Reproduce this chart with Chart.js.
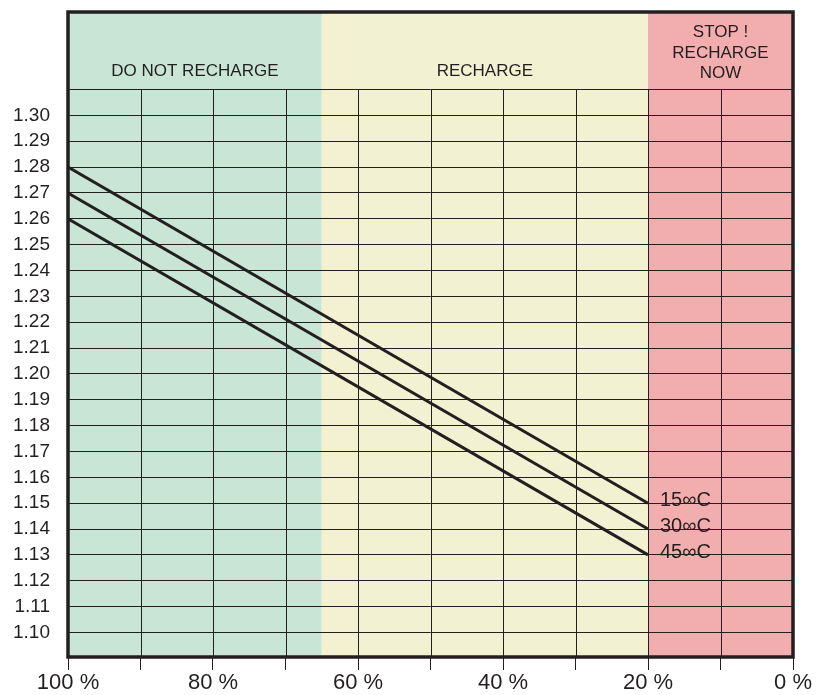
<!DOCTYPE html>
<html>
<head>
<meta charset="utf-8">
<script src="https://cdn.jsdelivr.net/npm/chart.js@4"></script>
<style>
  body { margin: 0; background: #fff; }
  #wrap { width: 819px; height: 695px; }
</style>
</head>
<body>
<div id="wrap"><canvas id="myChart"></canvas></div>
<script>
// state of charge (%) at the ends of each line
const socPercent = [100, 20]
// specific gravity per temperature
const sg15 = [1.28, 1.15]
const sg30 = [1.27, 1.14]
const sg45 = [1.26, 1.13]
const tempLabels = ["15∞C", "30∞C", "45∞C"]

const yTickValues = [1.10, 1.11, 1.12, 1.13, 1.14, 1.15, 1.16, 1.17, 1.18, 1.19, 1.20,
  1.21, 1.22, 1.23, 1.24, 1.25, 1.26, 1.27, 1.28, 1.29, 1.30, 1.31]
const yTickLabels = ["1.10", "1.11", "1.12", "1.13", "1.14", "1.15", "1.16", "1.17", "1.18", "1.19", "1.20",
  "1.21", "1.22", "1.23", "1.24", "1.25", "1.26", "1.27", "1.28", "1.29", "1.30", ""]
const xTickLabels = ["0 %", "20 %", "40 %", "60 %", "80 %", "100 %"]
const xLabelValues = [0, 20, 40, 60, 80, 100]

const zoneEdges = [100, 65, 20, 0]
const zoneNames = [["DO NOT RECHARGE"], ["RECHARGE"], ["STOP !", "RECHARGE", "NOW"]]
const headerBottom = 1.31

const zoneColors = ["#c9e5d5", "#f2f2d3", "#f2aeae"]
const ink = "#231f20"
const FONT = "'Liberation Sans', Arial, sans-serif"

const zonesPlugin = {
  id: "zones",
  beforeDraw(chart) {
    const { ctx, chartArea: a, scales: { x } } = chart
    ctx.save()
    for (let i = 0; i < zoneNames.length; i++) {
      const x1 = x.getPixelForValue(zoneEdges[i])
      const x2 = x.getPixelForValue(zoneEdges[i + 1])
      ctx.fillStyle = zoneColors[i]
      ctx.fillRect(x1, a.top, x2 - x1, a.bottom - a.top)
    }
    ctx.restore()
  },
  beforeDatasetsDraw(chart) {
    const { ctx, chartArea: a, scales: { x, y } } = chart
    const yTop = y.getPixelForValue(headerBottom)
    ctx.save()
    // vertical grid stops at the header line
    ctx.strokeStyle = ink
    ctx.lineWidth = 1
    for (let v = 10; v < 100; v += 10) {
      const px = Math.round(x.getPixelForValue(v)) + 0.5
      ctx.beginPath()
      ctx.moveTo(px, yTop)
      ctx.lineTo(px, a.bottom)
      ctx.stroke()
    }
    // header texts
    ctx.fillStyle = ink
    ctx.font = "17px " + FONT
    ctx.textAlign = "center"
    ctx.textBaseline = "middle"
    for (let i = 0; i < zoneNames.length; i++) {
      const cx = (x.getPixelForValue(zoneEdges[i]) + x.getPixelForValue(zoneEdges[i + 1])) / 2
      const lines = zoneNames[i]
      const lh = 20.5
      const cy = lines.length > 1 ? a.top + 20.5 : (a.top + yTop) / 2 + 20.5
      lines.forEach((t, k) => ctx.fillText(t, cx, cy + k * lh))
    }
    ctx.restore()
  },
  afterDatasetsDraw(chart) {
    const { ctx, chartArea: a, scales: { x, y } } = chart
    ctx.save()
    // temperature labels at line ends
    ctx.fillStyle = ink
    ctx.font = "20px " + FONT
    ctx.textAlign = "left"
    ctx.textBaseline = "alphabetic"
    const ends = [sg15, sg30, sg45]
    ends.forEach((s, i) => {
      const last = s.length - 1
      ctx.fillText(tempLabels[i], x.getPixelForValue(socPercent[last]) + 12, y.getPixelForValue(s[last]) + 3)
    })
    // frame
    ctx.strokeStyle = ink
    ctx.lineWidth = 3.5
    ctx.strokeRect(a.left, a.top, a.right - a.left, a.bottom - a.top)
    ctx.restore()
  }
}

function series(values) {
  return {
    data: values.map((v, i) => ({ x: socPercent[i], y: v })),
    borderColor: ink,
    borderWidth: 3,
    pointRadius: 0,
    fill: false,
    tension: 0
  }
}

const ctx = document.getElementById("myChart")
const myChart = new Chart(ctx, {
  type: "line",
  data: {
    datasets: [series(sg15), series(sg30), series(sg45)]
  },
  options: {
    responsive: true,
    maintainAspectRatio: false,
    animation: false,
    layout: { padding: { top: 12, right: 26, left: 0, bottom: 0 } },
    plugins: { legend: { display: false }, tooltip: { enabled: false } },
    scales: {
      x: {
        type: "linear",
        reverse: true,
        min: 0,
        max: 100,
        border: { display: false },
        grid: { drawOnChartArea: false, drawTicks: true, tickLength: 13, color: ink, tickColor: ink, lineWidth: 1 },
        afterBuildTicks(scale) {
          const t = []
          for (let v = 0; v <= 100; v += 10) t.push({ value: v })
          scale.ticks = t
        },
        ticks: {
          autoSkip: false,
          maxRotation: 0,
          padding: 0,
          color: ink,
          font: { family: FONT, size: 22 },
          callback: v => {
            const i = xLabelValues.indexOf(v)
            return i >= 0 ? xTickLabels[i] : ""
          }
        },
        afterFit(scale) {
          scale.height = 38
          scale.paddingLeft = 0
          scale.paddingRight = 0
        }
      },
      y: {
        type: "linear",
        min: 1.0905,
        max: 1.34,
        border: { display: false },
        grid: { drawTicks: false, color: ink, lineWidth: 1 },
        afterBuildTicks(scale) {
          scale.ticks = yTickValues.map(v => ({ value: v }))
        },
        ticks: {
          autoSkip: false,
          padding: 18,
          color: ink,
          font: { family: FONT, size: 19 },
          callback: (v, i) => yTickLabels[i]
        },
        afterFit(scale) {
          scale.width = 68
          scale.paddingTop = 0
          scale.paddingBottom = 0
        }
      }
    }
  },
  plugins: [zonesPlugin]
})
</script>
</body>
</html>
